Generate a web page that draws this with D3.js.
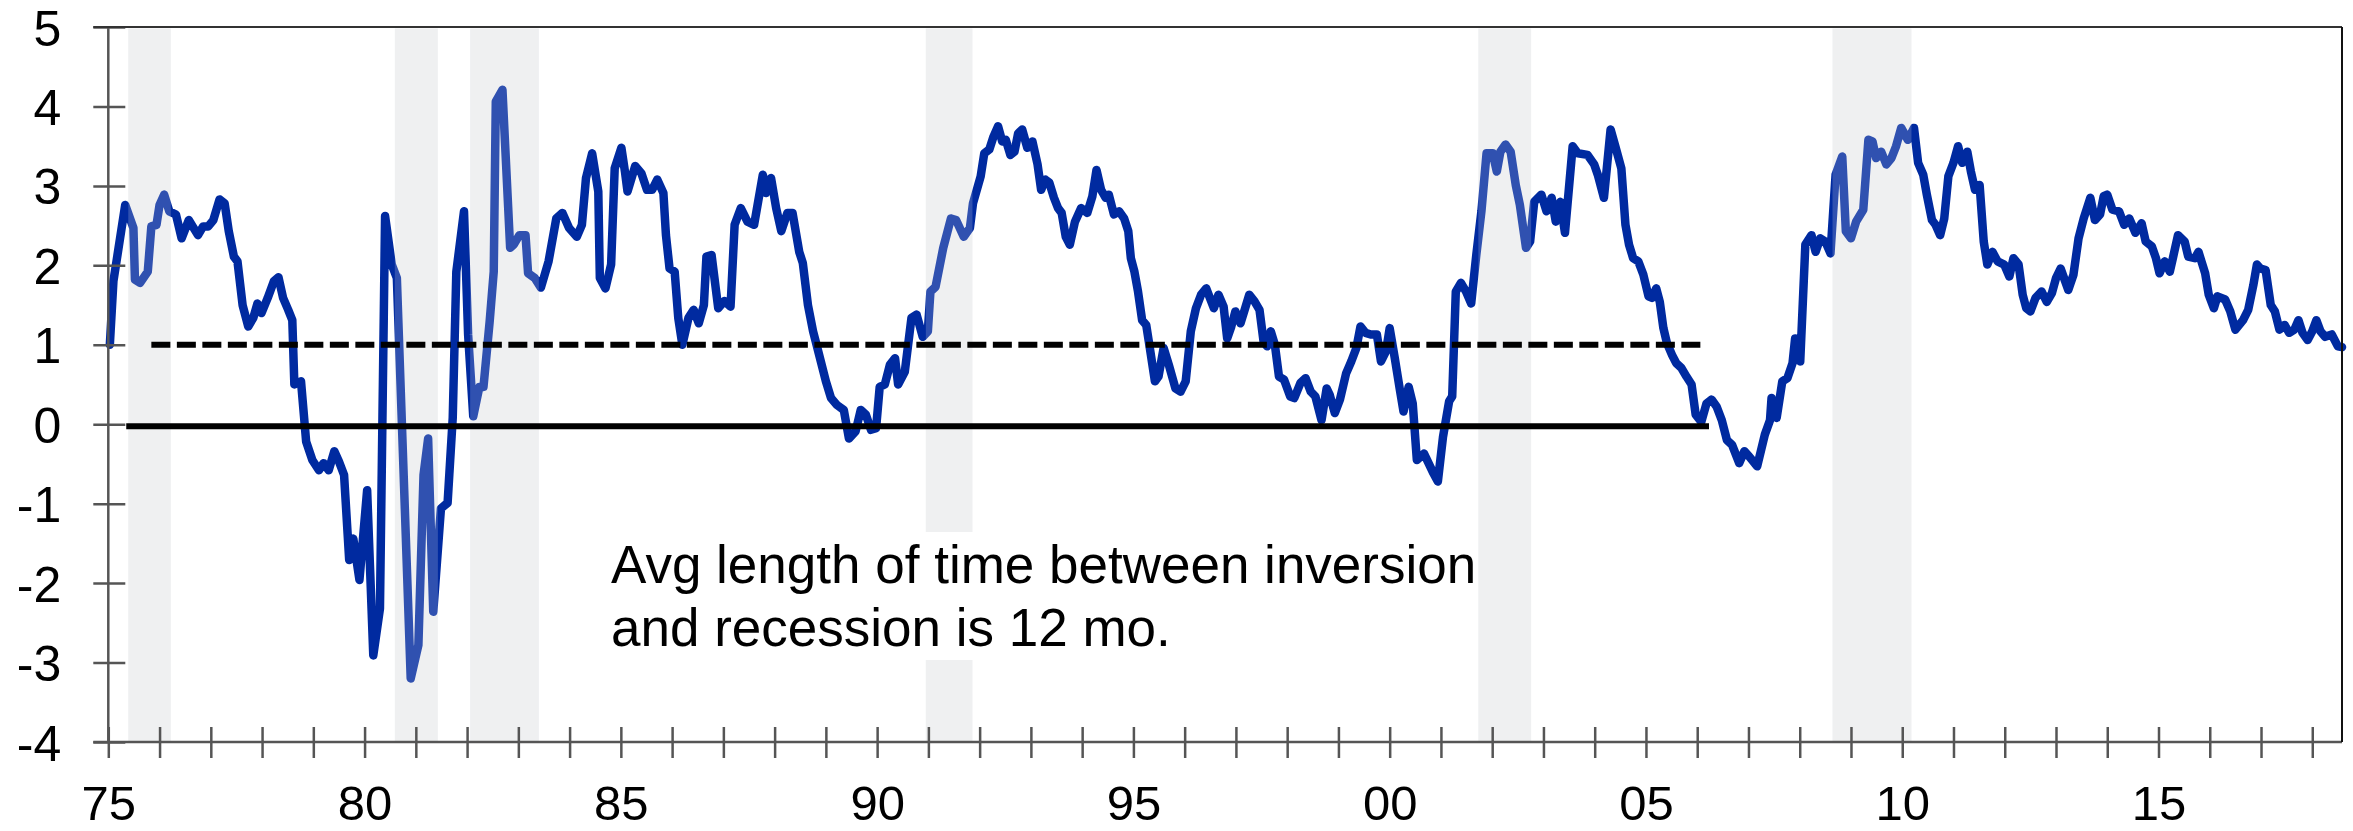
<!DOCTYPE html>
<html>
<head>
<meta charset="utf-8">
<style>
  html, body { margin: 0; padding: 0; background: #fff; }
  svg { display: block; font-family: "Liberation Sans", Arial, sans-serif; }
</style>
<title>Yield curve spread</title>
</head>
<body>
<script src="https://cdn.jsdelivr.net/npm/d3@7"></script>
<script>
// spread readings, [year, pct pts]
var spread = [
  [1975.03,1.00],[1975.10,1.80],[1975.33,2.76],[1975.49,2.47],[1975.52,1.82],[1975.62,1.78],
  [1975.77,1.92],[1975.84,2.49],[1975.94,2.51],[1976.00,2.76],[1976.09,2.89],[1976.19,2.68],
  [1976.32,2.64],[1976.43,2.34],[1976.57,2.57],[1976.75,2.38],[1976.85,2.49],[1976.95,2.49],
  [1977.05,2.57],[1977.17,2.83],[1977.27,2.78],[1977.35,2.43],[1977.45,2.11],[1977.52,2.05],
  [1977.62,1.50],[1977.73,1.23],[1977.83,1.34],[1977.91,1.52],[1977.99,1.40],[1978.11,1.59],
  [1978.23,1.80],[1978.32,1.85],[1978.41,1.59],[1978.51,1.44],[1978.59,1.31],[1978.63,0.50],
  [1978.76,0.54],[1978.86,-0.22],[1978.98,-0.45],[1979.11,-0.58],[1979.20,-0.49],[1979.30,-0.58],
  [1979.41,-0.34],[1979.50,-0.47],[1979.60,-0.64],[1979.70,-1.71],[1979.78,-1.44],[1979.90,-1.96],
  [1980.05,-0.83],[1980.17,-2.91],[1980.30,-2.32],[1980.40,2.62],[1980.53,2.01],[1980.63,1.84],
  [1980.90,-3.20],[1981.05,-2.78],[1981.15,-0.64],[1981.24,-0.18],[1981.34,-2.36],[1981.49,-1.06],
  [1981.62,-0.99],[1981.72,0.08],[1981.79,1.92],[1981.94,2.68],[1982.02,1.13],[1982.12,0.10],
  [1982.24,0.47],[1982.32,0.47],[1982.44,1.29],[1982.52,1.92],[1982.56,4.06],[1982.69,4.21],
  [1982.84,2.22],[1982.91,2.26],[1983.02,2.38],[1983.14,2.38],[1983.19,1.90],[1983.32,1.84],
  [1983.44,1.72],[1983.59,2.05],[1983.74,2.59],[1983.86,2.66],[1983.99,2.47],[1984.14,2.36],
  [1984.24,2.51],[1984.32,3.10],[1984.44,3.41],[1984.56,2.93],[1984.59,1.84],[1984.70,1.71],
  [1984.81,2.01],[1984.88,3.22],[1985.01,3.48],[1985.08,3.18],[1985.13,2.93],[1985.28,3.25],
  [1985.40,3.16],[1985.51,2.95],[1985.61,2.95],[1985.71,3.08],[1985.83,2.91],[1985.88,2.38],
  [1985.95,1.96],[1986.05,1.92],[1986.12,1.34],[1986.20,1.00],[1986.32,1.34],[1986.42,1.44],
  [1986.52,1.27],[1986.62,1.50],[1986.67,2.11],[1986.77,2.13],[1986.90,1.46],[1987.02,1.55],
  [1987.14,1.48],[1987.22,2.51],[1987.34,2.72],[1987.47,2.55],[1987.60,2.51],[1987.77,3.14],
  [1987.83,2.91],[1987.93,3.10],[1988.03,2.72],[1988.13,2.43],[1988.25,2.66],[1988.35,2.66],
  [1988.48,2.17],[1988.55,2.03],[1988.65,1.50],[1988.75,1.17],[1988.85,0.92],[1989.00,0.54],
  [1989.10,0.33],[1989.22,0.24],[1989.35,0.18],[1989.45,-0.18],[1989.58,-0.09],[1989.68,0.18],
  [1989.78,0.12],[1989.88,-0.07],[1989.98,-0.05],[1990.05,0.47],[1990.15,0.50],[1990.25,0.75],
  [1990.35,0.83],[1990.41,0.50],[1990.54,0.66],[1990.67,1.34],[1990.77,1.38],[1990.89,1.10],
  [1990.99,1.17],[1991.04,1.67],[1991.14,1.73],[1991.29,2.22],[1991.44,2.59],[1991.54,2.57],
  [1991.69,2.36],[1991.81,2.47],[1991.87,2.78],[1992.02,3.12],[1992.09,3.41],[1992.19,3.46],
  [1992.27,3.62],[1992.36,3.75],[1992.44,3.56],[1992.51,3.58],[1992.60,3.39],[1992.68,3.43],
  [1992.75,3.66],[1992.83,3.71],[1992.93,3.48],[1993.03,3.56],[1993.13,3.27],[1993.20,2.95],
  [1993.28,3.08],[1993.36,3.04],[1993.45,2.85],[1993.53,2.72],[1993.60,2.66],[1993.68,2.36],
  [1993.76,2.26],[1993.86,2.55],[1993.98,2.72],[1994.10,2.66],[1994.20,2.87],[1994.28,3.20],
  [1994.37,2.95],[1994.46,2.85],[1994.52,2.89],[1994.62,2.64],[1994.72,2.68],[1994.82,2.59],
  [1994.90,2.43],[1994.95,2.09],[1995.02,1.92],[1995.09,1.67],[1995.17,1.31],[1995.25,1.25],
  [1995.32,0.96],[1995.42,0.54],[1995.49,0.60],[1995.59,0.96],[1995.69,0.75],[1995.82,0.45],
  [1995.92,0.41],[1996.02,0.54],[1996.12,1.17],[1996.22,1.46],[1996.32,1.63],[1996.42,1.71],
  [1996.57,1.46],[1996.66,1.63],[1996.76,1.48],[1996.83,1.08],[1996.91,1.23],[1996.99,1.42],
  [1997.09,1.27],[1997.18,1.46],[1997.26,1.63],[1997.36,1.55],[1997.46,1.44],[1997.54,1.04],
  [1997.61,0.98],[1997.68,1.17],[1997.76,1.00],[1997.84,0.60],[1997.94,0.56],[1998.06,0.35],
  [1998.14,0.33],[1998.26,0.52],[1998.36,0.58],[1998.46,0.41],[1998.55,0.35],[1998.67,0.05],
  [1998.77,0.45],[1998.83,0.37],[1998.93,0.14],[1999.03,0.31],[1999.15,0.64],[1999.25,0.79],
  [1999.35,0.96],[1999.43,1.23],[1999.53,1.15],[1999.63,1.13],[1999.75,1.13],[1999.83,0.79],
  [1999.93,0.92],[2000.00,1.21],[2000.10,0.83],[2000.20,0.43],[2000.27,0.16],[2000.37,0.47],
  [2000.45,0.26],[2000.53,-0.45],[2000.67,-0.37],[2000.84,-0.60],[2000.94,-0.72],[2001.04,-0.16],
  [2001.16,0.29],[2001.22,0.35],[2001.29,1.67],[2001.39,1.78],[2001.49,1.67],[2001.59,1.52],
  [2001.69,2.13],[2001.79,2.68],[2001.89,3.41],[2002.01,3.41],[2002.09,3.18],[2002.16,3.43],
  [2002.26,3.52],[2002.36,3.43],[2002.46,3.01],[2002.54,2.76],[2002.66,2.22],[2002.74,2.30],
  [2002.82,2.80],[2002.96,2.89],[2003.06,2.68],[2003.16,2.85],[2003.24,2.55],[2003.33,2.80],
  [2003.42,2.41],[2003.57,3.50],[2003.67,3.41],[2003.86,3.39],[2003.99,3.27],[2004.06,3.14],
  [2004.18,2.85],[2004.31,3.71],[2004.41,3.48],[2004.52,3.22],[2004.60,2.51],[2004.67,2.26],
  [2004.75,2.09],[2004.85,2.05],[2004.95,1.88],[2005.05,1.61],[2005.12,1.59],[2005.20,1.71],
  [2005.27,1.54],[2005.34,1.21],[2005.41,1.02],[2005.51,0.87],[2005.59,0.77],[2005.69,0.71],
  [2005.79,0.60],[2005.89,0.50],[2005.97,0.12],[2006.08,0.03],[2006.18,0.26],[2006.28,0.31],
  [2006.38,0.22],[2006.48,0.05],[2006.58,-0.20],[2006.68,-0.26],[2006.82,-0.49],[2006.92,-0.34],
  [2007.02,-0.41],[2007.17,-0.53],[2007.32,-0.13],[2007.42,0.05],[2007.45,0.33],[2007.55,0.08],
  [2007.66,0.54],[2007.76,0.58],[2007.86,0.77],[2007.91,1.08],[2008.01,0.79],[2008.11,2.26],
  [2008.23,2.38],[2008.31,2.17],[2008.40,2.34],[2008.50,2.30],[2008.60,2.15],[2008.70,3.14],
  [2008.83,3.37],[2008.90,2.43],[2009.00,2.34],[2009.10,2.55],[2009.24,2.70],[2009.34,3.58],
  [2009.42,3.56],[2009.49,3.35],[2009.59,3.43],[2009.69,3.27],[2009.79,3.35],[2009.88,3.50],
  [2009.98,3.73],[2010.11,3.58],[2010.23,3.73],[2010.31,3.29],[2010.41,3.14],[2010.48,2.89],
  [2010.58,2.57],[2010.65,2.51],[2010.74,2.38],[2010.82,2.59],[2010.90,3.12],[2011.00,3.29],
  [2011.09,3.50],[2011.17,3.29],[2011.27,3.43],[2011.34,3.18],[2011.42,2.95],[2011.51,3.01],
  [2011.59,2.30],[2011.66,2.01],[2011.76,2.17],[2011.86,2.05],[2011.99,2.01],[2012.09,1.86],
  [2012.17,2.09],[2012.27,2.01],[2012.35,1.63],[2012.42,1.46],[2012.50,1.42],[2012.60,1.59],
  [2012.72,1.67],[2012.82,1.54],[2012.92,1.65],[2013.00,1.84],[2013.09,1.96],[2013.24,1.69],
  [2013.34,1.88],[2013.44,2.34],[2013.54,2.59],[2013.67,2.85],[2013.76,2.57],[2013.86,2.64],
  [2013.93,2.87],[2014.00,2.89],[2014.10,2.70],[2014.23,2.68],[2014.33,2.51],[2014.43,2.59],
  [2014.55,2.41],[2014.67,2.53],[2014.75,2.30],[2014.87,2.24],[2014.95,2.09],[2015.02,1.90],
  [2015.12,2.05],[2015.22,1.92],[2015.28,2.09],[2015.38,2.38],[2015.51,2.30],[2015.58,2.11],
  [2015.71,2.09],[2015.78,2.17],[2015.91,1.90],[2015.98,1.63],[2016.08,1.46],[2016.15,1.61],
  [2016.30,1.57],[2016.40,1.42],[2016.50,1.19],[2016.65,1.31],[2016.75,1.44],[2016.85,1.75],
  [2016.92,2.01],[2016.99,1.96],[2017.09,1.94],[2017.19,1.50],[2017.27,1.42],[2017.36,1.19],
  [2017.46,1.25],[2017.55,1.15],[2017.65,1.19],[2017.73,1.31],[2017.81,1.15],[2017.91,1.06],
  [2018.00,1.17],[2018.08,1.31],[2018.16,1.17],[2018.25,1.10],[2018.38,1.13],[2018.50,0.98],
  [2018.58,0.97]
];

// shaded periods, [start, end] in years
var recessions = [
  [1975.39,1976.22],[1980.59,1981.43],[1982.06,1983.40],
  [1990.95,1991.86],[2001.73,2002.76],[2008.64,2010.18]
];

// threshold levels and the span each is drawn over
var levels = [1, 0];
var levelSpans = [[1975.84,2006.18],[1975.35,2006.23]];

var yTicks = [-4,-3,-2,-1,0,1,2,3,4,5];
var xYears = d3.range(1975, 2019);
var noteLines = ["Avg length of time between inversion", "and recession is 12 mo."];

var W = 2353, H = 831;
var pLeft = 108.3, pRight = 2342, pTop = 27, pBottom = 742;
var blue = "#002aa0", shade = "#eff0f2", axisCol = "#555";

var x = d3.scaleLinear().domain([1975, 2018.58]).range([pLeft, pRight]);
var y = d3.scaleLinear().domain([-4, 5]).range([pBottom, pTop]);

var svg = d3.select("body").append("svg")
  .attr("width", W)
  .attr("height", H);

var gShade = svg.append("g");
var gLine = svg.append("g");
var gOver = svg.append("g");
var gRef = svg.append("g");
var gAxes = svg.append("g");

// annotation first, so the shading can leave room for it
var note = svg.append("text")
  .attr("font-size", 53)
  .attr("fill", "#000");
note.selectAll("tspan").data(noteLines).enter()
  .append("tspan")
  .attr("x", 611)
  .attr("y", function(d, i){ return 583 + i * 63; })
  .text(function(d){ return d; });
var nb = note.node().getBBox();
var gapTop = nb.y - 3, gapBot = nb.y + nb.height + 3;

function shadeParts(r) {
  var x0 = x(r[0]), x1 = x(r[1]);
  var y0 = pTop + 1.5;
  if (x1 > nb.x && x0 < nb.x + nb.width) {
    return [{x0:x0, x1:x1, y0:y0, y1:gapTop}, {x0:x0, x1:x1, y0:gapBot, y1:pBottom}];
  }
  return [{x0:x0, x1:x1, y0:y0, y1:pBottom}];
}
var parts = [];
recessions.forEach(function(r){ parts = parts.concat(shadeParts(r)); });

function drawShade(g, op) {
  g.selectAll("rect").data(parts).enter().append("rect")
    .attr("x", function(d){ return d.x0; })
    .attr("y", function(d){ return d.y0; })
    .attr("width", function(d){ return d.x1 - d.x0; })
    .attr("height", function(d){ return d.y1 - d.y0; })
    .attr("fill", shade)
    .attr("fill-opacity", op);
}
drawShade(gShade, 1);

var line = d3.line()
  .x(function(d){ return x(d[0]); })
  .y(function(d){ return y(d[1]); });

gLine.append("path")
  .datum(spread)
  .attr("d", line)
  .attr("fill", "none")
  .attr("stroke", blue)
  .attr("stroke-width", 8.5)
  .attr("stroke-linejoin", "round")
  .attr("stroke-linecap", "round");

// lighten the line where it crosses a shaded period
drawShade(gOver, 0.2);

gRef.selectAll("line").data(levels).enter().append("line")
  .attr("x1", function(d, i){ return x(levelSpans[i][0]); })
  .attr("x2", function(d, i){ return x(levelSpans[i][1]); })
  .attr("y1", function(d){ return y(d) + (d === 0 ? 2 : 0); })
  .attr("y2", function(d){ return y(d) + (d === 0 ? 2 : 0); })
  .attr("stroke", "#000")
  .attr("stroke-width", 6)
  .attr("stroke-dasharray", function(d){ return d === 0 ? null : "19,6.5"; });

// y axis
var yAxis = d3.axisLeft(y).tickValues(yTicks).tickSize(0).tickPadding(47)
  .tickFormat(function(d){ return String(d); });
var gy = gAxes.append("g")
  .attr("transform", "translate(" + pLeft + ",0)")
  .call(yAxis);
gy.select(".domain").remove();
gy.selectAll(".tick line")
  .attr("x1", -15).attr("x2", 17)
  .attr("stroke", axisCol).attr("stroke-width", 2.5);
gy.selectAll(".tick text")
  .attr("font-size", 50)
  .attr("font-family", null)
  .attr("fill", "#000")
  .attr("dy", "0.36em");

// x axis
var xAxis = d3.axisBottom(x).tickValues(xYears).tickSize(0)
  .tickFormat(function(d){ return d % 5 === 0 ? ("0" + (d % 100)).slice(-2) : ""; });
var gx = gAxes.append("g")
  .attr("transform", "translate(0," + pBottom + ")")
  .call(xAxis);
gx.select(".domain").remove();
gx.selectAll(".tick line")
  .attr("y1", -15).attr("y2", 16)
  .attr("stroke", axisCol).attr("stroke-width", 2.5);
gx.selectAll(".tick text")
  .attr("font-size", 49)
  .attr("font-family", null)
  .attr("fill", "#000")
  .attr("y", 78)
  .attr("dy", 0);

// frame
gAxes.append("line")
  .attr("x1", pLeft - 15).attr("x2", pRight).attr("y1", pBottom).attr("y2", pBottom)
  .attr("stroke", axisCol).attr("stroke-width", 2.5);
gAxes.append("line")
  .attr("x1", pLeft).attr("x2", pLeft).attr("y1", pTop).attr("y2", pBottom)
  .attr("stroke", axisCol).attr("stroke-width", 2.5);
gAxes.append("line")
  .attr("x1", pLeft - 15).attr("x2", pRight).attr("y1", pTop).attr("y2", pTop)
  .attr("stroke", "#333").attr("stroke-width", 2);
gAxes.append("line")
  .attr("x1", pRight).attr("x2", pRight).attr("y1", pTop).attr("y2", pBottom)
  .attr("stroke", "#111").attr("stroke-width", 2);

note.raise();
</script>
</body>
</html>
